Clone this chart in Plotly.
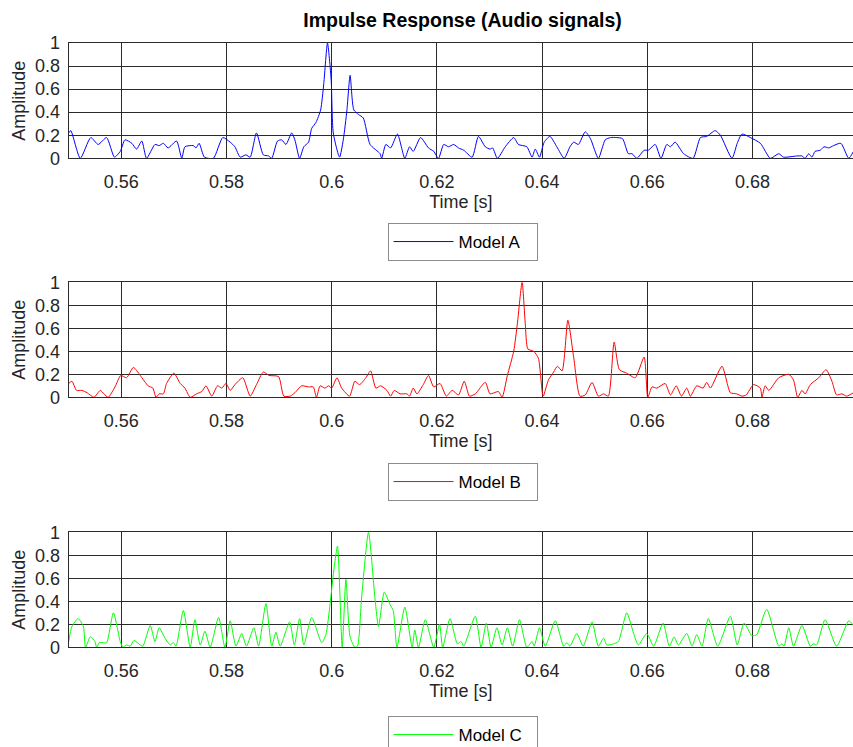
import plotly.graph_objects as go

# ---------------- data ----------------
time_a = [0.5500, 0.5504, 0.5522, 0.5542, 0.5556, 0.5572, 0.5587, 0.5598, 0.5607, 0.5620,
          0.5629, 0.5639, 0.5648, 0.5664, 0.5672, 0.5680, 0.5689, 0.5705, 0.5715, 0.5721,
          0.5737, 0.5742, 0.5748, 0.5758, 0.5775, 0.5793, 0.5807, 0.5816, 0.5826, 0.5837,
          0.5845, 0.5857, 0.5870, 0.5880, 0.5886, 0.5897, 0.5905, 0.5913, 0.5924, 0.5930,
          0.5939, 0.5947, 0.5956, 0.5962, 0.5970, 0.5979, 0.5985, 0.5992, 0.5999, 0.6003,
          0.6015, 0.6022, 0.6029, 0.6035, 0.6042, 0.6051, 0.6060, 0.6073, 0.6092, 0.6095,
          0.6103, 0.6112, 0.6125, 0.6139, 0.6148, 0.6155, 0.6169, 0.6184, 0.6194, 0.6203,
          0.6213, 0.6222, 0.6232, 0.6241, 0.6251, 0.6267, 0.6279, 0.6292, 0.6301, 0.6306,
          0.6315, 0.6330, 0.6346, 0.6355, 0.6371, 0.6381, 0.6387, 0.6395, 0.6404, 0.6415,
          0.6428, 0.6442, 0.6453, 0.6460, 0.6469, 0.6482, 0.6492, 0.6507, 0.6520, 0.6530,
          0.6542, 0.6553, 0.6564, 0.6571, 0.6580, 0.6594, 0.6602, 0.6615, 0.6626, 0.6637,
          0.6644, 0.6653, 0.6669, 0.6687, 0.6701, 0.6713, 0.6729, 0.6739, 0.6761, 0.6771,
          0.6780, 0.6796, 0.6815, 0.6834, 0.6850, 0.6859, 0.6884, 0.6894, 0.6900, 0.6907,
          0.6913, 0.6919, 0.6929, 0.6936, 0.6945, 0.6954, 0.6968, 0.6983, 0.6992]
amp_a = [0.22, 0.24, 0.00, 0.18, 0.12, 0.18, 0.01, 0.06, 0.16, 0.13,
         0.08, 0.15, 0.00, 0.12, 0.11, 0.13, 0.09, 0.15, 0.00, 0.10,
         0.11, 0.09, 0.13, 0.01, 0.00, 0.18, 0.14, 0.10, 0.01, 0.03,
         0.01, 0.22, 0.03, 0.02, 0.00, 0.15, 0.16, 0.12, 0.22, 0.16,
         0.00, 0.10, 0.14, 0.26, 0.31, 0.42, 0.65, 1.00, 0.68, 0.22,
         0.01, 0.16, 0.42, 0.72, 0.42, 0.38, 0.35, 0.12, 0.04, 0.00,
         0.12, 0.09, 0.21, 0.00, 0.10, 0.06, 0.18, 0.09, 0.06, 0.00,
         0.12, 0.10, 0.12, 0.09, 0.07, 0.01, 0.19, 0.10, 0.08, 0.09,
         0.00, 0.10, 0.18, 0.12, 0.10, 0.01, 0.08, 0.01, 0.14, 0.19,
         0.10, 0.00, 0.10, 0.14, 0.12, 0.23, 0.17, 0.00, 0.16, 0.18,
         0.18, 0.17, 0.04, 0.04, 0.00, 0.07, 0.07, 0.12, 0.00, 0.12,
         0.10, 0.14, 0.04, 0.00, 0.18, 0.19, 0.24, 0.20, 0.00, 0.13,
         0.21, 0.18, 0.13, 0.00, 0.04, 0.01, 0.02, 0.02, 0.00, 0.04,
         0.01, 0.06, 0.07, 0.10, 0.09, 0.11, 0.13, 0.00, 0.06]

time_b = [0.5500, 0.5506, 0.5515, 0.5525, 0.5535, 0.5548, 0.5560, 0.5567, 0.5575, 0.5588,
          0.5599, 0.5610, 0.5623, 0.5636, 0.5651, 0.5660, 0.5666, 0.5672, 0.5680, 0.5686,
          0.5700, 0.5712, 0.5721, 0.5731, 0.5743, 0.5753, 0.5761, 0.5772, 0.5783, 0.5791,
          0.5799, 0.5807, 0.5816, 0.5831, 0.5845, 0.5857, 0.5870, 0.5881, 0.5899, 0.5909,
          0.5921, 0.5930, 0.5943, 0.5956, 0.5965, 0.5971, 0.5978, 0.5987, 0.5994, 0.6000,
          0.6010, 0.6019, 0.6034, 0.6044, 0.6053, 0.6065, 0.6074, 0.6084, 0.6093, 0.6105,
          0.6112, 0.6119, 0.6130, 0.6143, 0.6148, 0.6155, 0.6162, 0.6174, 0.6184, 0.6194,
          0.6206, 0.6218, 0.6229, 0.6241, 0.6252, 0.6262, 0.6273, 0.6292, 0.6301, 0.6317,
          0.6324, 0.6334, 0.6346, 0.6353, 0.6362, 0.6368, 0.6373, 0.6384, 0.6393, 0.6402,
          0.6412, 0.6422, 0.6429, 0.6438, 0.6449, 0.6460, 0.6472, 0.6482, 0.6495, 0.6507,
          0.6517, 0.6526, 0.6537, 0.6547, 0.6561, 0.6577, 0.6594, 0.6601, 0.6609, 0.6618,
          0.6634, 0.6644, 0.6655, 0.6665, 0.6675, 0.6682, 0.6694, 0.6706, 0.6713, 0.6720,
          0.6742, 0.6758, 0.6770, 0.6780, 0.6788, 0.6802, 0.6815, 0.6818, 0.6824, 0.6831,
          0.6850, 0.6869, 0.6878, 0.6886, 0.6894, 0.6900, 0.6910, 0.6926, 0.6940, 0.6951,
          0.6960, 0.6970, 0.6979, 0.6992]
amp_b = [0.12, 0.14, 0.06, 0.06, 0.04, 0.00, 0.06, 0.03, 0.00, 0.09,
         0.19, 0.17, 0.26, 0.19, 0.10, 0.08, 0.00, 0.03, 0.03, 0.12,
         0.21, 0.12, 0.08, 0.00, 0.03, 0.05, 0.10, 0.01, 0.10, 0.08,
         0.12, 0.06, 0.11, 0.17, 0.01, 0.11, 0.22, 0.19, 0.18, 0.01,
         0.01, 0.04, 0.10, 0.09, 0.09, 0.00, 0.10, 0.08, 0.10, 0.08,
         0.17, 0.08, 0.01, 0.14, 0.11, 0.17, 0.23, 0.08, 0.10, 0.06,
         0.01, 0.06, 0.03, 0.03, 0.01, 0.08, 0.03, 0.11, 0.19, 0.09,
         0.12, 0.01, 0.06, 0.02, 0.14, 0.01, 0.03, 0.13, 0.03, 0.05,
         0.00, 0.19, 0.40, 0.64, 1.00, 0.64, 0.42, 0.40, 0.34, 0.01,
         0.15, 0.22, 0.27, 0.23, 0.67, 0.35, 0.01, 0.02, 0.13, 0.01,
         0.03, 0.01, 0.48, 0.24, 0.21, 0.17, 0.35, 0.00, 0.09, 0.08,
         0.12, 0.02, 0.10, 0.01, 0.08, 0.01, 0.10, 0.08, 0.13, 0.08,
         0.27, 0.04, 0.03, 0.01, 0.02, 0.11, 0.08, 0.00, 0.10, 0.06,
         0.17, 0.20, 0.15, 0.00, 0.06, 0.03, 0.11, 0.17, 0.24, 0.14,
         0.02, 0.03, 0.01, 0.04]

time_c = [0.5500, 0.5506, 0.5518, 0.5528, 0.5532, 0.5541, 0.5550, 0.5553, 0.5558, 0.5565,
          0.5572, 0.5585, 0.5598, 0.5603, 0.5610, 0.5617, 0.5624, 0.5636, 0.5641, 0.5655,
          0.5664, 0.5672, 0.5683, 0.5693, 0.5699, 0.5704, 0.5718, 0.5731, 0.5740, 0.5750,
          0.5759, 0.5769, 0.5785, 0.5797, 0.5807, 0.5818, 0.5829, 0.5838, 0.5852, 0.5861,
          0.5875, 0.5886, 0.5894, 0.5902, 0.5920, 0.5929, 0.5939, 0.5947, 0.5962, 0.5981,
          0.5989, 0.5997, 0.6003, 0.6011, 0.6020, 0.6027, 0.6035, 0.6044, 0.6049, 0.6057,
          0.6070, 0.6082, 0.6089, 0.6100, 0.6111, 0.6117, 0.6124, 0.6139, 0.6153, 0.6158,
          0.6165, 0.6178, 0.6194, 0.6205, 0.6211, 0.6225, 0.6239, 0.6246, 0.6251, 0.6273,
          0.6284, 0.6294, 0.6303, 0.6314, 0.6324, 0.6334, 0.6344, 0.6357, 0.6371, 0.6381,
          0.6385, 0.6395, 0.6406, 0.6425, 0.6441, 0.6447, 0.6453, 0.6466, 0.6478, 0.6495,
          0.6507, 0.6517, 0.6523, 0.6536, 0.6545, 0.6561, 0.6574, 0.6583, 0.6599, 0.6612,
          0.6630, 0.6642, 0.6651, 0.6659, 0.6675, 0.6685, 0.6694, 0.6704, 0.6716, 0.6734,
          0.6758, 0.6771, 0.6784, 0.6799, 0.6808, 0.6827, 0.6850, 0.6856, 0.6860, 0.6869,
          0.6878, 0.6894, 0.6910, 0.6916, 0.6922, 0.6938, 0.6960, 0.6983, 0.6992]
amp_c = [0.05, 0.18, 0.25, 0.18, 0.00, 0.09, 0.05, 0.00, 0.04, 0.04,
         0.04, 0.30, 0.05, 0.00, 0.02, 0.01, 0.06, 0.02, 0.01, 0.19,
         0.05, 0.17, 0.08, 0.02, 0.04, 0.01, 0.32, 0.00, 0.24, 0.02,
         0.14, 0.00, 0.26, 0.00, 0.23, 0.01, 0.12, 0.01, 0.17, 0.01,
         0.38, 0.01, 0.13, 0.01, 0.22, 0.02, 0.25, 0.02, 0.26, 0.04,
         0.11, 0.38, 0.63, 0.88, 0.00, 0.59, 0.09, 0.00, 0.01, 0.44,
         1.00, 0.44, 0.18, 0.48, 0.37, 0.32, 0.00, 0.35, 0.00, 0.15,
         0.00, 0.24, 0.00, 0.20, 0.00, 0.25, 0.03, 0.05, 0.01, 0.27,
         0.00, 0.21, 0.00, 0.17, 0.02, 0.17, 0.01, 0.24, 0.00, 0.05,
         0.01, 0.17, 0.01, 0.23, 0.01, 0.04, 0.01, 0.12, 0.01, 0.22,
         0.01, 0.08, 0.02, 0.03, 0.05, 0.30, 0.12, 0.02, 0.12, 0.01,
         0.21, 0.01, 0.09, 0.02, 0.12, 0.01, 0.11, 0.01, 0.25, 0.01,
         0.27, 0.02, 0.21, 0.10, 0.11, 0.33, 0.01, 0.03, 0.01, 0.17,
         0.01, 0.19, 0.01, 0.03, 0.02, 0.24, 0.01, 0.23, 0.19]

series_names = ["Model A", "Model B", "Model C"]
series_colors = ["#0000FF", "#FF0000", "#00FF00"]
x_tick_vals = [0.56, 0.58, 0.60, 0.62, 0.64, 0.66, 0.68]
x_tick_text = ["0.56", "0.58", "0.6", "0.62", "0.64", "0.66", "0.68"]
y_tick_vals = [0, 0.2, 0.4, 0.6, 0.8, 1.0]
y_tick_text = ["0", "0.2", "0.4", "0.6", "0.8", "1"]
title_text = "Impulse Response (Audio signals)"
x_title = "Time [s]"
y_title = "Amplitude"

# ---------------- layout ----------------
W, H = 853, 747
FONT = "Liberation Sans, Arial, Helvetica, sans-serif"
TXT = "#262626"
GRID = "#2a2a2a"

x_left = 68.7 / W
plot_px = [(43.0, 158.3), (282.3, 397.3), (532.3, 647.3)]   # top, bottom pixel rows
legend_mid_px = [242, 482, 735]

fig = go.Figure()
data = [(time_a, amp_a), (time_b, amp_b), (time_c, amp_c)]
for i, (t, a) in enumerate(data):
    sfx = "" if i == 0 else str(i + 1)
    fig.add_trace(go.Scatter(
        x=t, y=a, mode="lines", name=series_names[i],
        line=dict(color=series_colors[i], width=1, shape="spline", smoothing=0.6),
        xaxis="x" + sfx, yaxis="y" + sfx,
        legend="legend" + sfx,
    ))

layout = dict(
    width=W, height=H,
    margin=dict(l=0, r=0, t=0, b=0, autoexpand=False),
    paper_bgcolor="white", plot_bgcolor="white",
    font=dict(family=FONT, size=18, color=TXT),
    title=dict(text="<b>" + title_text + "</b>", x=462.5 / W, xanchor="center",
               y=1 - 20 / H, yanchor="middle",
               font=dict(family=FONT, size=19.5, color="#000000")),
    showlegend=True,
)

for i, (top, bot) in enumerate(plot_px):
    sfx = "" if i == 0 else str(i + 1)
    layout["xaxis" + sfx] = dict(
        domain=[x_left, 1.0], range=[0.55, 0.69911],
        anchor="y" + sfx, automargin=False,
        tickvals=x_tick_vals, ticktext=x_tick_text,
        showgrid=True, gridcolor=GRID, gridwidth=1,
        showline=True, linecolor=GRID, linewidth=1, mirror=True,
        ticks="", zeroline=False,
        tickfont=dict(family=FONT, size=18, color=TXT),
        ticklabelstandoff=7,
        title=dict(text=x_title, standoff=2, font=dict(family=FONT, size=18, color=TXT)),
    )
    layout["yaxis" + sfx] = dict(
        domain=[1 - bot / H, 1 - top / H], range=[0, 1],
        anchor="x" + sfx, automargin=False,
        tickvals=y_tick_vals, ticktext=y_tick_text,
        showgrid=True, gridcolor=GRID, gridwidth=1,
        showline=True, linecolor=GRID, linewidth=1, mirror=True,
        ticks="", zeroline=False,
        tickfont=dict(family=FONT, size=18, color=TXT),
        ticklabelstandoff=4,
        title=dict(text=y_title, standoff=4, font=dict(family=FONT, size=18, color=TXT)),
    )
    layout["legend" + sfx] = dict(
        orientation="h",
        x=462.5 / W, xanchor="center",
        y=1 - legend_mid_px[i] / H, yanchor="middle",
        bgcolor="white", bordercolor="#8c8c8c", borderwidth=1,
        font=dict(family=FONT, size=17, color="#000000"),
        itemwidth=60, entrywidth=73, entrywidthmode="pixels",
    )

fig.update_layout(**layout)
fig.write_html("out.html")
